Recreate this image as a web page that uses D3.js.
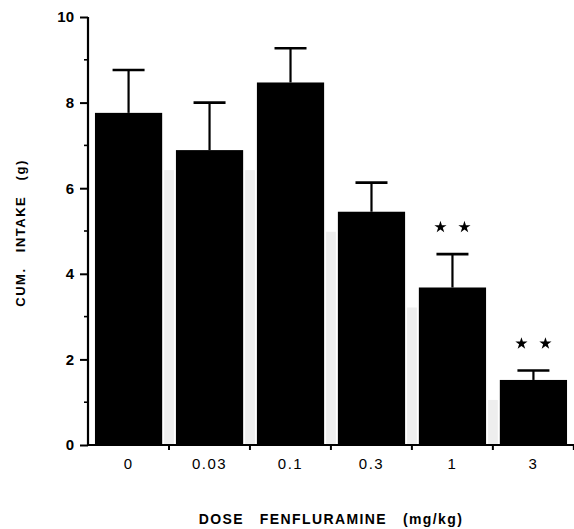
<!DOCTYPE html>
<html>
<head>
<meta charset="utf-8">
<script src="https://cdn.jsdelivr.net/npm/d3@7"></script>
<style>
  body { margin: 0; background: #fff; }
  svg { display: block; }
  text { font-family: "Liberation Sans", Arial, sans-serif; fill: #000; }
</style>
</head>
<body>
<script>
// Data
var doses = ["0", "0.03", "0.1", "0.3", "1", "3"];
var means = [7.76, 6.89, 8.47, 5.45, 3.68, 1.52];
var sems  = [1.00, 1.11, 0.80, 0.68, 0.78, 0.22];
var signif = [false, false, false, false, true, true];   // "* *"
var yMajor = [0, 2, 4, 6, 8, 10];
var yMinor = [1, 3, 5, 7, 9];

var width = 574,
	height = 529;

var svg = d3.select("body").append("svg")
	.attr("width", width)
	.attr("height", height);

var rows = doses.map(function(d, i) {
	return { dose: d, mean: means[i], sem: sems[i], sig: signif[i] };
});

var x = d3.scaleBand()
	.domain(doses)
	.range([88, 574])
	.paddingInner(0.17)
	.paddingOuter(0.086);

var y = d3.scaleLinear()
	.domain([0, 10])
	.range([445, 17]);

// faint grey streaks between the bars (scan artefact in the original)
var gaps = d3.range(doses.length - 1);
svg.append("g").selectAll("rect")
	.data(gaps)
	.enter().append("rect")
		.attr("x", function(i) { return x(doses[i]) + x.bandwidth() + 2; })
		.attr("width", x.step() - x.bandwidth() - 4)
		.attr("y", function(i) { return y(Math.min(means[i], means[i + 1])) + 20; })
		.attr("height", function(i) { return y(0) - y(Math.min(means[i], means[i + 1])) - 20; })
		.attr("fill", "#eeeeee");

// bars
svg.append("g").selectAll("rect")
	.data(rows)
	.enter().append("rect")
		.attr("x", function(d) { return x(d.dose); })
		.attr("y", function(d) { return y(d.mean); })
		.attr("width", x.bandwidth())
		.attr("height", function(d) { return y(0) - y(d.mean); })
		.attr("fill", "#000");

// error bars (upper half only)
var err = svg.append("g")
	.attr("stroke", "#000")
	.attr("fill", "none");

err.selectAll("line.stem")
	.data(rows)
	.enter().append("line")
		.attr("class", "stem")
		.attr("x1", function(d) { return x(d.dose) + x.bandwidth() / 2; })
		.attr("x2", function(d) { return x(d.dose) + x.bandwidth() / 2; })
		.attr("y1", function(d) { return y(d.mean); })
		.attr("y2", function(d) { return y(d.mean + d.sem); })
		.attr("stroke-width", 2.2);

err.selectAll("line.cap")
	.data(rows)
	.enter().append("line")
		.attr("class", "cap")
		.attr("x1", function(d) { return x(d.dose) + x.bandwidth() / 2 - 16; })
		.attr("x2", function(d) { return x(d.dose) + x.bandwidth() / 2 + 16; })
		.attr("y1", function(d) { return y(d.mean + d.sem); })
		.attr("y2", function(d) { return y(d.mean + d.sem); })
		.attr("stroke-width", 2.6);

// significance stars
var star = d3.symbol().type(d3.symbolStar).size(46);
svg.append("g").selectAll("path")
	.data(rows.filter(function(d) { return d.sig; }).flatMap(function(d) {
		return [[d, -12], [d, 12]];
	}))
	.enter().append("path")
		.attr("d", star)
		.attr("fill", "#000")
		.attr("transform", function(p) {
			var d = p[0];
			return "translate(" + (x(d.dose) + x.bandwidth() / 2 + p[1]) + "," + (y(d.mean + d.sem) - 27) + ")";
		});

// y axis
var yAxis = svg.append("g")
	.attr("transform", "translate(88,0)")
	.call(d3.axisLeft(y).tickValues(yMajor).tickSize(8).tickPadding(6).tickFormat(d3.format("d")));
yAxis.select(".domain").attr("stroke-width", 2.2).attr("d", "M0," + y(10) + "V" + y(0));
yAxis.selectAll(".tick line").attr("stroke-width", 2);
yAxis.selectAll(".tick text")
	.style("font-size", "15px")
	.style("font-weight", "bold");

svg.append("g")
	.attr("transform", "translate(88,0)")
	.selectAll("line")
	.data(yMinor)
	.enter().append("line")
		.attr("x1", -4).attr("x2", 0)
		.attr("y1", function(d) { return y(d); })
		.attr("y2", function(d) { return y(d); })
		.attr("stroke", "#000")
		.attr("stroke-width", 1.6);

// x axis: line, boundary ticks, centred labels
svg.append("line")
	.attr("x1", 88).attr("x2", 574)
	.attr("y1", y(0)).attr("y2", y(0))
	.attr("stroke", "#000")
	.attr("stroke-width", 2.2);

svg.append("g").selectAll("line")
	.data(d3.range(1, doses.length + 1))
	.enter().append("line")
		.attr("x1", function(k) { return 88 + k * x.step(); })
		.attr("x2", function(k) { return 88 + k * x.step(); })
		.attr("y1", y(0)).attr("y2", y(0) + 5)
		.attr("stroke", "#000")
		.attr("stroke-width", 2);

var xAxis = svg.append("g")
	.attr("transform", "translate(0," + y(0) + ")")
	.call(d3.axisBottom(x).tickSize(0).tickPadding(13));
xAxis.select(".domain").remove();
xAxis.selectAll(".tick text")
	.style("font-size", "15px")
	.style("letter-spacing", "1.5px");

// axis titles
svg.append("text")
	.attr("x", 331)
	.attr("y", 524)
	.attr("text-anchor", "middle")
	.style("font-size", "14px")
	.style("font-weight", "bold")
	.style("letter-spacing", "1.4px")
	.style("white-space", "pre")
	.text("DOSE   FENFLURAMINE   (mg/kg)");

svg.append("text")
	.attr("transform", "translate(25,233) rotate(-90)")
	.attr("text-anchor", "middle")
	.style("font-size", "13px")
	.style("font-weight", "bold")
	.style("letter-spacing", "1.5px")
	.style("white-space", "pre")
	.text("CUM.   INTAKE   (g)");
</script>
</body>
</html>
